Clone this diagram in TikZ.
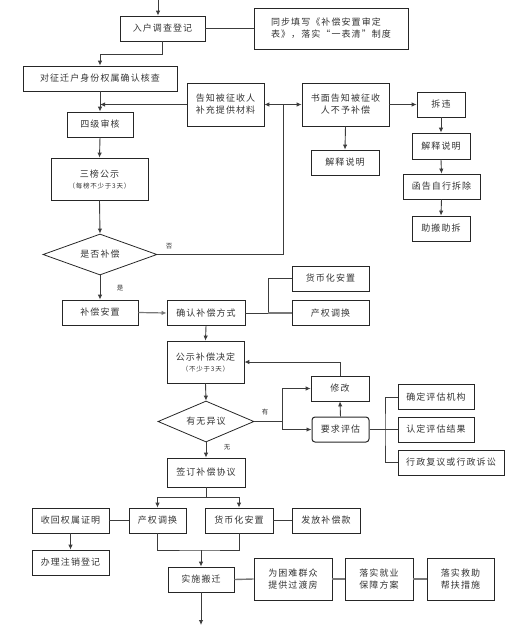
\documentclass[tikz,border=0pt]{standalone}
\usepackage{fontspec}
\newfontfamily\cjk[LetterSpace=12]{Noto Sans CJK SC}
\usetikzlibrary{arrows.meta,shapes.geometric}
\definecolor{linegray}{RGB}{60,60,60}
\definecolor{lightline}{RGB}{120,120,120}
\begin{document}
\begin{tikzpicture}[x=1pt,y=-1pt,
  box/.style={draw=black!85, line width=0.8pt, minimum height=25, inner sep=1pt, align=center, font=\cjk\fontsize{9}{12}\selectfont, text=black!80},
  decision/.style={diamond, draw=black!85, line width=0.8pt, aspect=2.7, inner sep=0pt, font=\cjk\fontsize{9}{12}\selectfont, text=black!80},
  small/.style={font=\cjk\fontsize{6.5}{8}\selectfont, text=black!80},
  arr/.style={draw=linegray, line width=0.9pt, -{Latex[length=5pt,width=4.5pt]}},
  ln/.style={draw=linegray, line width=0.9pt}]
\useasboundingbox (0,0) rectangle (531,625);
\node[box, minimum width=85] (ruhu) at (162.5,28.5){入户调查登记};
\node[box, minimum width=154, minimum height=41, align=left] (tongbu) at (331,28.5){同步填写《补偿安置审定\\表》，落实“一表清”制度};
\node[box, minimum width=154] (hecha) at (100,78.5){对征迁户身份权属确认核查};
\node[box, minimum width=66] (siji) at (100,124.5){四级审核};
\node[box, minimum width=77, minimum height=43] (gaozhi) at (225.5,104.5){告知被征收人\\补充提供材料};
\node[box, minimum width=87, minimum height=43] (shumian) at (345.5,104.5){书面告知被征收\\人不予补偿};
\node[box, minimum width=68] (jieshi1) at (345,162.5){解释说明};
\node[box, minimum width=48] (chaiwei) at (441,104.5){拆违};
\node[box, minimum width=58, minimum height=26] (jieshi2) at (441,146){解释说明};
\node[box, minimum width=77] (hangao) at (441.5,186.5){函告自行拆除};
\node[box, minimum width=58] (zhuban) at (441,228.5){助搬助拆};
\node[box, minimum width=97, minimum height=42] (sanbang) at (99.5,179){三榜公示\\[-1pt]{\fontsize{6.5}{8}\selectfont（每榜不少于3天）}};
\node[decision, minimum width=114, minimum height=41] (shifou) at (100,254.5){是否补偿};
\node[box, minimum width=76] (buchang) at (100,312.5){补偿安置};
\node[box, minimum width=78] (queren) at (206,313){确认补偿方式};
\node[box, minimum width=77] (huobiA) at (330.5,278.5){货币化安置};
\node[box, minimum width=77] (chanquanA) at (330.5,313){产权调换};
\node[box, minimum width=77, minimum height=42] (gongshi) at (205.5,362){公示补偿决定\\[-1pt]{\fontsize{6.5}{8}\selectfont（不少于3天）}};
\node[decision, minimum width=96, minimum height=41] (yiyi) at (206,421.5){有无异议};
\node[box, minimum width=58] (xiugai) at (340,388.5){修改};
\node[box, minimum width=57, rounded corners=3pt, line width=1pt] (pinggu) at (340.5,429.5){要求评估};
\node[box, minimum width=76] (jigou) at (436,397){确定评估机构};
\node[box, minimum width=76] (jieguo) at (436,429.5){认定评估结果};
\node[box, minimum width=106] (susong) at (451,462.5){行政复议或行政诉讼};
\node[box, minimum width=78, minimum height=29] (qianding) at (206,472.5){签订补偿协议};
\node[box, minimum width=77] (shouhui) at (70.5,520.5){收回权属证明};
\node[box, minimum width=57] (chanquanB) at (157.5,520.5){产权调换};
\node[box, minimum width=68] (huobiB) at (239,520.5){货币化安置};
\node[box, minimum width=68] (fafang) at (326,520.5){发放补偿款};
\node[box, minimum width=77] (zhuxiao) at (70.5,562.5){办理注销登记};
\node[box, minimum width=66] (banqian) at (201,579.5){实施搬迁};
\node[box, minimum width=78, minimum height=42] (guodu) at (293,579){为困难群众\\提供过渡房};
\node[box, minimum width=68, minimum height=42] (jiuye) at (379,579){落实就业\\保障方案};
\node[box, minimum width=67, minimum height=42] (jiuzhu) at (460.5,579){落实救助\\帮扶措施};
% free ends and joints
\coordinate (start) at (158,0);
\coordinate (fou) at (283,104.5);
\coordinate (fenA) at (268,313);
\coordinate (youj) at (282,421.5);
\coordinate (pgj) at (385,429.5);
\coordinate (hebing) at (201,550);
\coordinate (jieshu) at (201,625);
% top part
\draw[arr] (start) -- (start |- ruhu.north);
\draw[ln] (ruhu.east) -- (tongbu.west);
\draw[arr] (ruhu.south) -- ++(0,13) -| (hecha.north);
\draw[arr] (hecha.south) -- (siji.north);
\draw[arr] (gaozhi.west) -- (hecha.south |- gaozhi.west);
\draw[arr] (siji.south) -- (sanbang.north);
\draw[arr] (sanbang.south) -- (shifou.north);
\draw[ln] (shifou.east) -| (fou);
\draw[arr] (fou) -- (gaozhi.east);
\draw[arr] (fou) -- (shumian.west);
\node[small] (foulabel) at (169,246){否};
\draw[arr] (shumian.south) -- (jieshi1.north);
\draw[arr] (shumian.east) -- (chaiwei.west);
\draw[arr] (chaiwei.south) -- (jieshi2.north);
\draw[arr] (jieshi2.south) -- (hangao.north);
\draw[arr] (hangao.south) -- (zhuban.north);
% compensation
\draw[arr] (shifou.south) -- (buchang.north);
\node[small] (shilabel) at (120,288){是};
\draw[arr, draw=lightline, line width=1.2pt] (buchang.east) -- (queren.west);
\draw[ln] (queren.east) -- (fenA) |- (huobiA.west);
\draw[ln, draw=lightline, line width=1.2pt] (fenA) -- (chanquanA.west);
\draw[arr] (queren.south) -- (gongshi.north);
\draw[arr] (gongshi.south) -- (yiyi.north);
\draw[ln] (yiyi.east) -- (youj);
\draw[arr] (youj) |- (xiugai.west);
\draw[arr] (youj) |- (pinggu.west);
\node[small] (youlabel) at (265,412){有};
\draw[arr] (pinggu.north) -- (xiugai.south);
\draw[arr] (xiugai.north) |- (gongshi.east);
\draw[ln] (pinggu.east) -- (jieguo.west);
\draw[ln] (jigou.west) -| (pgj) |- (susong.west);
\draw[arr] (yiyi.south) -- (qianding.north);
\node[small] (wulabel) at (227,447){无};
% agreement
\draw[arr] (qianding.south) -- ++(0,10) -| (chanquanB.north);
\draw[arr] (qianding.south) -- ++(0,10) -| (huobiB.north);
\draw[ln] (shouhui.east) -- (chanquanB.west);
\draw[ln] (huobiB.east) -- (fafang.west);
\draw[arr] (shouhui.south) -- (zhuxiao.north);
\draw[ln] (chanquanB.south) |- (hebing) -| (huobiB.south);
\draw[arr] (hebing) -- (banqian.north);
\draw[arr] (banqian.south) -- (jieshu);
\draw[ln, draw=lightline, line width=1.4pt] (banqian.east) -- (guodu.west);
\draw[ln, draw=lightline, line width=1.4pt] (guodu.east) -- (jiuye.west);
\draw[ln, draw=lightline, line width=1.4pt] (jiuye.east) -- (jiuzhu.west);
\end{tikzpicture}
\end{document}
